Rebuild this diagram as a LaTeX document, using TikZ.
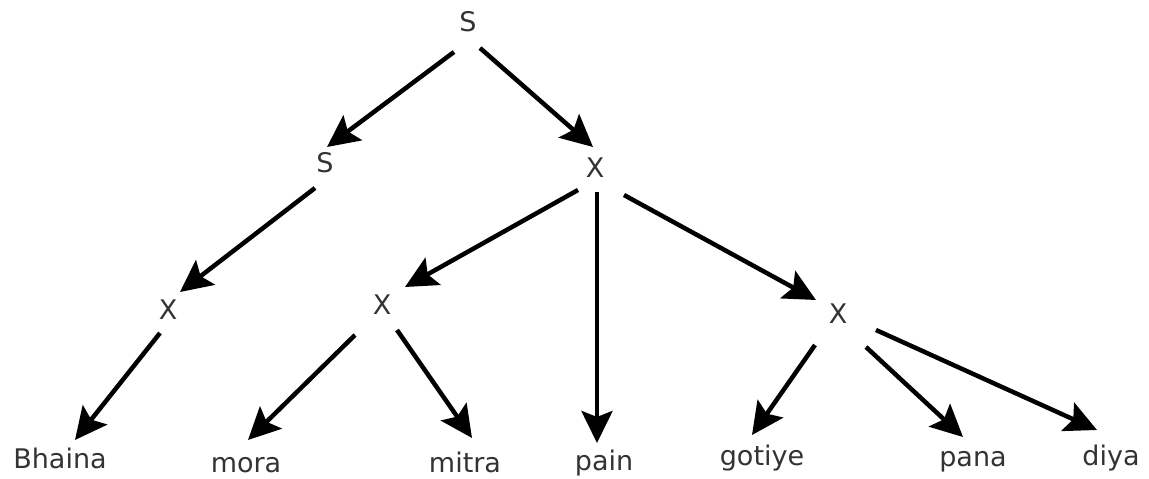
\documentclass[tikz,border=0pt]{standalone}
\usepackage{fontspec}
\setmainfont{DejaVu Sans}
\usetikzlibrary{arrows.meta}
\begin{document}
\begin{tikzpicture}[x=1pt,y=-1pt,
  lbl/.style={anchor=base, inner sep=0pt, font=\fontsize{27}{32}\selectfont, text=black!80},
  arr/.style={line width=4.5pt, -{Stealth[length=32pt,width=31pt,inset=6pt]}}]
\useasboundingbox (0,0) rectangle (1149,479);
% nodes
\node[lbl] (s0) at (468,31) {S};
\node[lbl] (s1) at (325,172) {S};
\node[lbl] (x1) at (595,177) {X};
\node[lbl] (x2) at (168,319) {X};
\node[lbl] (x3) at (382,314) {X};
\node[lbl] (x4) at (838,323) {X};
\node[lbl] (bhaina) at (60,468) {Bhaina};
\node[lbl] (mora) at (246,472) {mora};
\node[lbl] (mitra) at (465,472) {mitra};
\node[lbl] (pain) at (604,470) {pain};
\node[lbl] (gotiye) at (762,465) {gotiye};
\node[lbl] (pana) at (973,466) {pana};
\node[lbl] (diya) at (1111,465) {diya};
% connectors
\draw[arr] ([shift={(-14,21)}]s0.base) -- ([shift={(2,-25)}]s1.base);
\draw[arr] ([shift={(12,17)}]s0.base) -- ([shift={(-2,-30)}]x1.base);
\draw[arr] ([shift={(-10,16)}]s1.base) -- ([shift={(12,-27)}]x2.base);
\draw[arr] ([shift={(-17,13)}]x1.base) -- ([shift={(23,-27)}]x3.base);
\draw[arr] ([shift={(2,15)}]x1.base) -- ([shift={(-7,-27)}]pain.base);
\draw[arr] ([shift={(29,18)}]x1.base) -- ([shift={(-22,-23)}]x4.base);
\draw[arr] ([shift={(-8,14)}]x2.base) -- ([shift={(15,-28)}]bhaina.base);
\draw[arr] ([shift={(-27,21)}]x3.base) -- ([shift={(2,-32)}]mora.base);
\draw[arr] ([shift={(15,16)}]x3.base) -- ([shift={(7,-34)}]mitra.base);
\draw[arr] ([shift={(-23,22)}]x4.base) -- ([shift={(-10,-30)}]gotiye.base);
\draw[arr] ([shift={(28,24)}]x4.base) -- ([shift={(-10,-29)}]pana.base);
\draw[arr] ([shift={(38,7)}]x4.base) -- ([shift={(-14,-35)}]diya.base);
\end{tikzpicture}
\end{document}
